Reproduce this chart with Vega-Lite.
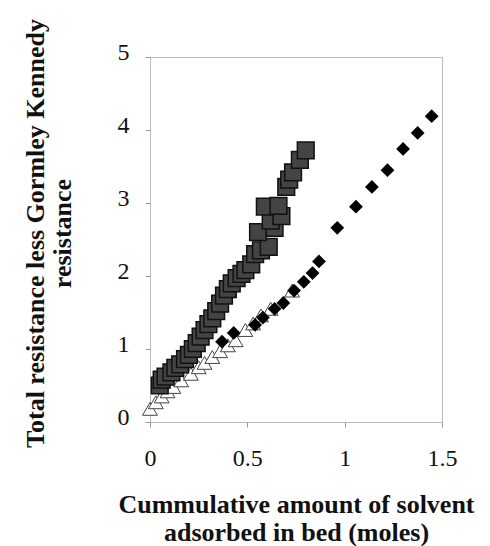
{
  "$schema": "https://vega.github.io/schema/vega-lite/v6.json",
  "width": 292,
  "height": 365,
  "autosize": {"type": "none"},
  "padding": {"left": 150, "top": 57, "right": 48, "bottom": 124},
  "background": "white",
  "config": {
    "view": {"stroke": "#777", "strokeDash": [1, 1], "strokeWidth": 1},
    "axis": {
      "grid": false,
      "domain": false,
      "labelFont": "Liberation Serif",
      "labelFontSize": 24,
      "labelColor": "#111",
      "titleFont": "Liberation Serif",
      "titleFontWeight": "bold",
      "titleFontSize": 26,
      "titleColor": "#111",
      "tickColor": "#999",
      "tickSize": 5
    }
  },
  "datasets": {
    "pts": [
      {"series": "sq", "x": 0.05, "y": 0.5},
      {"series": "sq", "x": 0.06, "y": 0.58},
      {"series": "sq", "x": 0.08, "y": 0.62},
      {"series": "sq", "x": 0.11, "y": 0.68},
      {"series": "sq", "x": 0.13, "y": 0.74},
      {"series": "sq", "x": 0.155, "y": 0.79},
      {"series": "sq", "x": 0.18, "y": 0.86},
      {"series": "sq", "x": 0.2, "y": 0.92},
      {"series": "sq", "x": 0.22, "y": 1.0},
      {"series": "sq", "x": 0.24, "y": 1.08},
      {"series": "sq", "x": 0.26, "y": 1.17},
      {"series": "sq", "x": 0.28, "y": 1.26},
      {"series": "sq", "x": 0.3, "y": 1.34},
      {"series": "sq", "x": 0.32, "y": 1.42},
      {"series": "sq", "x": 0.34, "y": 1.52},
      {"series": "sq", "x": 0.36, "y": 1.62},
      {"series": "sq", "x": 0.38, "y": 1.73},
      {"series": "sq", "x": 0.4, "y": 1.82},
      {"series": "sq", "x": 0.42, "y": 1.9},
      {"series": "sq", "x": 0.445, "y": 1.97},
      {"series": "sq", "x": 0.47, "y": 2.03},
      {"series": "sq", "x": 0.49, "y": 2.08},
      {"series": "sq", "x": 0.52, "y": 2.16},
      {"series": "sq", "x": 0.54, "y": 2.3},
      {"series": "sq", "x": 0.57, "y": 2.35},
      {"series": "sq", "x": 0.61, "y": 2.4},
      {"series": "sq", "x": 0.555, "y": 2.6},
      {"series": "sq", "x": 0.64, "y": 2.66},
      {"series": "sq", "x": 0.62, "y": 2.76},
      {"series": "sq", "x": 0.675, "y": 2.82},
      {"series": "sq", "x": 0.59, "y": 2.95},
      {"series": "sq", "x": 0.66, "y": 2.96},
      {"series": "sq", "x": 0.7, "y": 3.22},
      {"series": "sq", "x": 0.715, "y": 3.32},
      {"series": "sq", "x": 0.735, "y": 3.42},
      {"series": "sq", "x": 0.77, "y": 3.59},
      {"series": "sq", "x": 0.8, "y": 3.72},
      {"series": "tri", "x": 0.0, "y": 0.18},
      {"series": "tri", "x": 0.03, "y": 0.27},
      {"series": "tri", "x": 0.06, "y": 0.35},
      {"series": "tri", "x": 0.09, "y": 0.42},
      {"series": "tri", "x": 0.12, "y": 0.48},
      {"series": "tri", "x": 0.16, "y": 0.57},
      {"series": "tri", "x": 0.21, "y": 0.66},
      {"series": "tri", "x": 0.25, "y": 0.75},
      {"series": "tri", "x": 0.28, "y": 0.81},
      {"series": "tri", "x": 0.32, "y": 0.89},
      {"series": "tri", "x": 0.36, "y": 0.97},
      {"series": "tri", "x": 0.4, "y": 1.05},
      {"series": "tri", "x": 0.44, "y": 1.12},
      {"series": "tri", "x": 0.49, "y": 1.26},
      {"series": "tri", "x": 0.53, "y": 1.35},
      {"series": "tri", "x": 0.57, "y": 1.46},
      {"series": "tri", "x": 0.62, "y": 1.55},
      {"series": "tri", "x": 0.73, "y": 1.8},
      {"series": "dia", "x": 0.37, "y": 1.1},
      {"series": "dia", "x": 0.43, "y": 1.22},
      {"series": "dia", "x": 0.54, "y": 1.33},
      {"series": "dia", "x": 0.58, "y": 1.43},
      {"series": "dia", "x": 0.64, "y": 1.55},
      {"series": "dia", "x": 0.685, "y": 1.63},
      {"series": "dia", "x": 0.74, "y": 1.8},
      {"series": "dia", "x": 0.79, "y": 1.92},
      {"series": "dia", "x": 0.835, "y": 2.04},
      {"series": "dia", "x": 0.868, "y": 2.2},
      {"series": "dia", "x": 0.962, "y": 2.66},
      {"series": "dia", "x": 1.058, "y": 2.95},
      {"series": "dia", "x": 1.14, "y": 3.22},
      {"series": "dia", "x": 1.22, "y": 3.45},
      {"series": "dia", "x": 1.3, "y": 3.74},
      {"series": "dia", "x": 1.375, "y": 3.96},
      {"series": "dia", "x": 1.447, "y": 4.19}
    ]
  },
  "data": {"name": "pts"},
  "encoding": {
    "x": {
      "field": "x", "type": "quantitative",
      "scale": {"domain": [0, 1.5], "nice": false},
      "axis": {
        "values": [0, 0.5, 1, 1.5],
        "format": "~g",
        "labelFont": "Liberation Serif",
        "labelPadding": 19,
        "labelFlush": false,
        "title": ["Cummulative amount of solvent", "adsorbed in bed (moles)"],
        "titleX": 146,
        "titleY": 82,
        "titleBaseline": "middle",
        "titleAlign": "center",
        "titleLineHeight": 28
      }
    },
    "y": {
      "field": "y", "type": "quantitative",
      "scale": {"domain": [0, 5], "nice": false},
      "axis": {
        "values": [0, 1, 2, 3, 4, 5],
        "format": "~g",
        "labelFont": "Liberation Serif",
        "labelPadding": 16,
        "labelOffset": -5,
        "labelFlush": false,
        "title": ["Total resistance less Gormley Kennedy", "resistance"],
        "titleX": -115,
        "titleY": 176,
        "titleAngle": -90,
        "titleBaseline": "middle",
        "titleAlign": "center",
        "titleLineHeight": 27
      }
    }
  },
  "layer": [
    {
      "transform": [{"filter": "datum.series === 'tri'"}],
      "mark": {"type": "point", "shape": "triangle-up", "size": 220, "filled": false, "fill": "white", "fillOpacity": 1, "stroke": "#444", "strokeWidth": 1, "opacity": 1}
    },
    {
      "transform": [{"filter": "datum.series === 'dia'"}],
      "mark": {"type": "point", "shape": "diamond", "size": 190, "filled": true, "color": "#000", "opacity": 1}
    },
    {
      "transform": [{"filter": "datum.series === 'sq'"}],
      "mark": {"type": "point", "shape": "square", "size": 280, "filled": true, "fill": "#444", "stroke": "#111", "strokeWidth": 1.5, "opacity": 1}
    }
  ]
}
